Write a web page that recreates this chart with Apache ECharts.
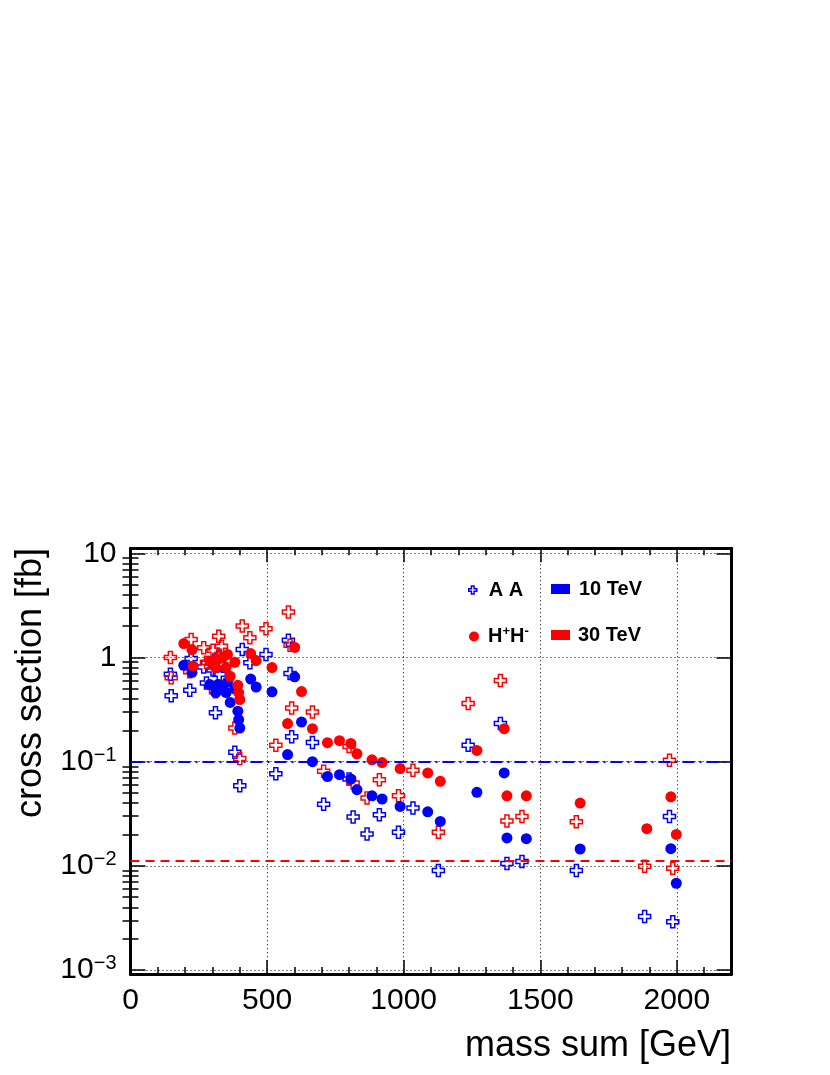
<!DOCTYPE html>
<html>
<head>
<meta charset="utf-8">
<script src="https://cdn.jsdelivr.net/npm/echarts@6/dist/echarts.min.js"></script>
<style>
  html, body { margin: 0; padding: 0; background: #fff; }
  #chart { width: 830px; height: 1075px; }
</style>
</head>
<body>
<div id="chart"></div>
<script>
// A A pair production: mass sum [GeV] and cross section [fb] at 10 / 30 TeV
const aaMass = [146, 149, 217, 222, 268, 278, 302, 311, 323, 325, 333, 382, 400, 409, 437, 496, 532,
  578, 584, 590, 666, 707, 800, 815, 866, 911, 981, 1034, 1127, 1236, 1354, 1378, 1433, 1632, 1882, 1973, 1985];
const aa10 = [0.69, 0.43, 0.485, 0.98, 0.81, 0.57, 0.76, 0.294, 1.03, 0.69, 0.85, 0.123, 0.0588, 1.19, 0.89, 1.07, 0.0767,
  1.46, 0.70, 0.173, 0.153, 0.039, 0.068, 0.0294, 0.0202, 0.031, 0.021, 0.0359, 0.009, 0.1435, 0.232, 0.0105, 0.011, 0.009, 0.00326, 0.0298, 0.0029];
const aa30 = [1.00, 0.64, 0.73, 1.49, 1.24, 0.90, 1.17, 0.47, 1.60, 1.05, 1.28, 0.21, 0.107, 2.00, 1.55, 1.89, 0.1435,
  2.73, 1.31, 0.328, 0.30, 0.081, 0.14, 0.0624, 0.0448, 0.067, 0.047, 0.0826, 0.021, 0.361, 0.60, 0.027, 0.0298, 0.0265, 0.0099, 0.103, 0.0095];

// H+H- pair production
const hhMass = [195, 225, 229, 290, 312, 320, 338, 355, 350, 365, 382, 393, 396, 400, 440, 460, 518, 575, 601, 626, 666,
  721, 765, 807, 829, 884, 921, 987, 1088, 1134, 1268, 1368, 1378, 1449, 1646, 1890, 1978, 1998];
const hh10 = [0.84, 0.72, null, 0.55, 0.46, 0.55, 0.53, 0.58, 0.46, 0.37, 0.50, 0.305, 0.253, 0.21, 0.62, 0.52, 0.468, 0.117, 0.652, 0.24, 0.10,
  0.072, 0.075, 0.068, 0.0538, 0.047, 0.0438, 0.0372, 0.033, 0.0267, 0.0507, 0.078, 0.0185, 0.0182, 0.0145, null, 0.0146, 0.0068];
const hh30 = [1.36, 1.19, 0.83, 0.92, 0.80, 0.96, 1.00, 1.07, 0.80, 0.66, 0.90, 0.54, 0.46, 0.395, 1.09, 0.935, 0.80, 0.232, 1.25, 0.471, 0.207,
  0.152, 0.159, 0.149, 0.119, 0.104, 0.098, 0.0857, 0.078, 0.0647, 0.128, 0.207, 0.047, 0.047, 0.040, 0.0227, 0.046, 0.020];

// horizontal reference levels
const level10 = 0.1;
const level30 = 0.0111;

// axes
const xMin = 0, xMax = 2200;
const xMajorStep = 500, xMinorStep = 100;
const yMin = 0.000915, yMax = 11.17;
const yMajor = [0.001, 0.01, 0.1, 1, 10];
const yMinor = [];
[0.001, 0.01, 0.1, 1].forEach(d => { for (let k = 2; k <= 9; k++) yMinor.push(+(k * d).toPrecision(3)); });

const blue = '#0000ff';
const red = '#ff0000';
const font = 'Liberation Sans';
const crossIcon = 'path://M1 0H2V1H3V2H2V3H1V2H0V1H1Z';

function pts(xs, ys) {
  return xs.map((x, i) => ys[i] == null ? null : [x, ys[i]]).filter(p => p);
}

function yLabel(v) {
  const e = Math.round(Math.log10(v));
  if (e === 0) return '1';
  if (e === 1) return '10';
  return '10{sup|\u2212' + (-e) + '}';
}

const chart = echarts.init(document.getElementById('chart'));

const frameLine = { show: true, onZero: false, lineStyle: { color: '#000', width: 3 } };
const dotted = { show: true, lineStyle: { color: '#000', width: 1, type: [1, 3] } };

function xAx(pos, step, len, labels, split) {
  return {
    type: 'value', position: pos, min: xMin, max: xMax, interval: step,
    axisLine: step === xMajorStep ? frameLine : { show: false },
    axisTick: { show: true, inside: true, length: len, lineStyle: { color: '#000', width: 1.5 } },
    axisLabel: labels ? {
      show: true, fontSize: 30, fontFamily: font, color: '#000', margin: 12,
      formatter: v => (v % xMajorStep === 0 ? String(v) : '')
    } : { show: false },
    splitLine: split ? dotted : { show: false }
  };
}

function yAx(pos, values, len, labels, split) {
  return {
    type: 'log', logBase: 10, position: pos, min: yMin, max: yMax,
    axisLine: values === yMajor ? frameLine : { show: false },
    axisTick: { show: true, inside: true, length: len, customValues: values, lineStyle: { color: '#000', width: 1.5 } },
    axisLabel: labels ? {
      show: true, customValues: values, fontSize: 30, fontFamily: font, color: '#000', margin: 14,
      formatter: yLabel,
      rich: { sup: { fontSize: 20, fontFamily: font, color: '#000', verticalAlign: 'top', padding: [0, 0, 12, 0] } }
    } : { show: false },
    splitLine: split ? dotted : { show: false }
  };
}

function dummy(name) {
  return { name: name, type: 'scatter', data: [], xAxisIndex: 0, yAxisIndex: 0 };
}

function legendItem(name, left, top, w, h, item, pad, extra) {
  return Object.assign({
    data: [Object.assign({ name: name }, item)],
    left: left, top: top, itemWidth: w, itemHeight: h, padding: 0,
    selectedMode: false, orient: 'horizontal',
    textStyle: { fontFamily: font, fontWeight: 'bold', fontSize: 20, color: '#000', padding: [0, 0, 0, pad] }
  }, extra || {});
}

chart.setOption({
  animation: false,
  backgroundColor: '#fff',
  grid: { left: 130.5, right: 98.5, top: 548.3, bottom: 101, containLabel: false },
  xAxis: [
    xAx('bottom', xMajorStep, 14, true, true),
    xAx('bottom', xMinorStep, 7, false, false),
    xAx('top', xMajorStep, 14, false, false),
    xAx('top', xMinorStep, 7, false, false)
  ],
  yAxis: [
    yAx('left', yMajor, 15, true, true),
    yAx('left', yMinor, 8, false, false),
    yAx('right', yMajor, 15, false, false),
    yAx('right', yMinor, 8, false, false)
  ],
  legend: [
    legendItem('A A', 468, 580, 8, 8,
      { icon: crossIcon, itemStyle: { color: 'rgba(0,0,0,0)', borderColor: blue, borderWidth: 1.5, opacity: 1 } }, 7),
    legendItem('10 TeV', 551, 579, 19, 10, { icon: 'rect', itemStyle: { color: blue, borderWidth: 0, opacity: 1 } }, 4),
    legendItem('H+H-', 469, 625, 10, 10, { icon: 'circle', itemStyle: { color: red, borderWidth: 0, opacity: 1 } }, 4, {
      formatter: () => 'H{sup|+}H{sup|-}',
      textStyle: {
        fontFamily: font, fontWeight: 'bold', fontSize: 20, color: '#000', padding: [0, 0, 0, 4],
        rich: { sup: { fontFamily: font, fontWeight: 'bold', fontSize: 13, color: '#000', verticalAlign: 'top', padding: [0, 0, 10, 0] } }
      }
    }),
    legendItem('30 TeV', 551, 625, 19, 10, { icon: 'rect', itemStyle: { color: red, borderWidth: 0, opacity: 1 } }, 3)
  ],
  series: [
    {
      name: 'A A 10 TeV', type: 'scatter', data: pts(aaMass, aa10),
      symbol: crossIcon, symbolSize: 12,
      itemStyle: { color: 'rgba(0,0,0,0)', borderColor: blue, borderWidth: 1.5, opacity: 1 }
    },
    {
      name: 'A A 30 TeV', type: 'scatter', data: pts(aaMass, aa30),
      symbol: crossIcon, symbolSize: 12,
      itemStyle: { color: 'rgba(0,0,0,0)', borderColor: red, borderWidth: 1.5, opacity: 1 }
    },
    {
      name: 'H+H- 10 TeV', type: 'scatter', data: pts(hhMass, hh10),
      symbol: 'circle', symbolSize: 11, itemStyle: { color: blue, opacity: 1 },
      markLine: {
        silent: true, symbol: 'none', precision: 6, label: { show: false },
        lineStyle: { color: blue, width: 2, type: [12, 5, 2, 5] },
        data: [{ yAxis: level10 }]
      }
    },
    {
      name: 'H+H- 30 TeV', type: 'scatter', data: pts(hhMass, hh30),
      symbol: 'circle', symbolSize: 11, itemStyle: { color: red, opacity: 1 },
      markLine: {
        silent: true, symbol: 'none', precision: 6, label: { show: false },
        lineStyle: { color: red, width: 2, type: [9, 6] },
        data: [{ yAxis: level30 }]
      }
    },
    dummy('A A'), dummy('10 TeV'), dummy('H+H-'), dummy('30 TeV')
  ],
  graphic: [
    {
      type: 'text', x: 731, y: 1046,
      style: { text: 'mass sum [GeV]', font: '36px "Liberation Sans"', fill: '#000', align: 'right', verticalAlign: 'middle' }
    },
    {
      type: 'text', x: 31, y: 548, rotation: Math.PI / 2,
      style: { text: 'cross section [fb]', font: '36px "Liberation Sans"', fill: '#000', align: 'right', verticalAlign: 'middle' }
    }
  ]
});
</script>
</body>
</html>
